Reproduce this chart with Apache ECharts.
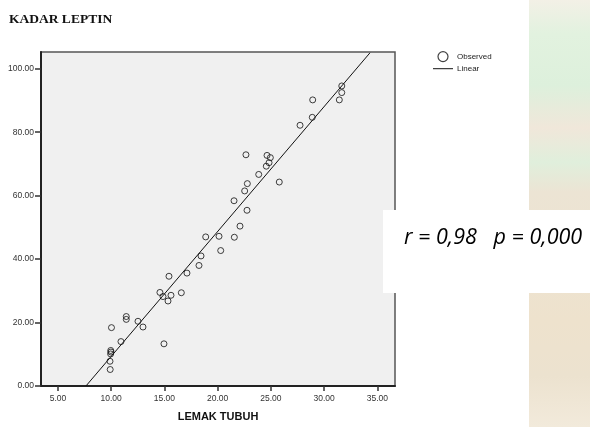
<!DOCTYPE html>
<html>
<head>
<meta charset="utf-8">
<script src="https://cdn.jsdelivr.net/npm/echarts@6/dist/echarts.min.js"></script>
<style>
  html, body { margin: 0; padding: 0; background: #fff; }
  #chart { width: 590px; height: 427px; }
</style>
</head>
<body>
<div id="chart"></div>
<script>
// lemak tubuh (x) vs kadar leptin (y)
const lemakTubuh = [
  9.91, 9.89, 9.95, 9.98, 9.96, 10.03, 10.92, 11.42, 11.42, 12.52,
  12.99, 14.96, 14.58, 14.87, 15.34, 15.62, 15.43, 16.59, 17.12, 18.25,
  18.44, 18.88, 20.13, 20.29, 21.54, 21.57, 22.10, 22.54, 22.66, 22.79,
  22.76, 23.86, 24.57, 24.83, 24.95, 24.64, 25.79, 27.74, 28.89, 28.93,
  31.43, 31.66, 31.66
];
const kadarLeptin = [
  5.2, 7.8, 10.1, 10.7, 11.2, 18.4, 14.0, 21.9, 21.0, 20.4,
  18.6, 13.3, 29.5, 28.2, 26.8, 28.6, 34.6, 29.4, 35.6, 38.0,
  41.0, 47.0, 47.2, 42.7, 58.4, 46.9, 50.4, 61.5, 72.9, 63.8,
  55.4, 66.7, 69.3, 70.4, 72.0, 72.7, 64.3, 82.2, 84.7, 90.2,
  90.2, 92.5, 94.6
];
// fitted line end points (where it leaves the plot frame)
const linearFit = [[7.63, 0], [34.31, 105.04]];

const xTicks = [5, 10, 15, 20, 25, 30, 35];
const yTicks = [0, 20, 40, 60, 80, 100];
const statText = 'r = 0,98   p = 0,000';

const points = lemakTubuh.map((x, i) => [x, kadarLeptin[i]]);

const chart = echarts.init(document.getElementById('chart'), null, { renderer: 'canvas' });

const labelFont = {
  color: '#333',
  fontSize: 8.5,
  fontFamily: 'Liberation Sans, Arial, sans-serif',
  formatter: v => v.toFixed(2)
};

const option = {
  animation: false,
  backgroundColor: '#fff',
  title: {
    text: 'KADAR LEPTIN',
    left: 9,
    top: 13,
    padding: 0,
    textStyle: {
      fontFamily: 'Liberation Serif, Times New Roman, serif',
      fontWeight: 'bold',
      fontSize: 13.5,
      color: '#111'
    }
  },
  legend: {
    orient: 'vertical',
    left: 433,
    top: 51,
    padding: 0,
    itemWidth: 20,
    itemHeight: 10,
    itemGap: 2.5,
    textStyle: { fontSize: 8, color: '#222', fontFamily: 'Liberation Sans, Arial, sans-serif', padding: [0, 0, 0, -1] },
    data: [
      { name: 'Observed', icon: 'circle', itemStyle: { color: 'rgba(255,255,255,0)', borderColor: '#111', borderWidth: 1.2 } },
      { name: 'Linear', icon: 'path://M0,0H20V1H0Z', itemStyle: { color: '#111', borderWidth: 0 } }
    ]
  },
  grid: {
    left: 41,
    right: 195,
    top: 52,
    bottom: 34,
    show: true,
    backgroundColor: '#f0f0f0',
    borderColor: '#555',
    borderWidth: 1.5
  },
  xAxis: {
    type: 'value',
    min: 3.41,
    max: 36.66,
    name: 'LEMAK TUBUH',
    nameLocation: 'middle',
    nameGap: 25,
    nameTextStyle: {
      fontFamily: 'Liberation Sans, Arial, sans-serif',
      fontWeight: 'bold',
      fontSize: 11,
      color: '#111'
    },
    axisLine: { lineStyle: { color: '#222', width: 2 } },
    axisTick: { show: true, length: 5, customValues: xTicks, lineStyle: { color: '#333', width: 1.5 } },
    axisLabel: Object.assign({ margin: 8, customValues: xTicks }, labelFont),
    splitLine: { show: false }
  },
  yAxis: {
    type: 'value',
    min: 0,
    max: 105.3,
    axisLine: { show: true, lineStyle: { color: '#222', width: 2 } },
    axisTick: { show: true, length: 6, customValues: yTicks, lineStyle: { color: '#333', width: 1.5 } },
    axisLabel: Object.assign({ margin: 7, customValues: yTicks }, labelFont),
    splitLine: { show: false }
  },
  series: [
    {
      name: 'Observed',
      type: 'scatter',
      symbol: 'circle',
      symbolSize: 6,
      itemStyle: { color: 'rgba(0,0,0,0)', borderColor: '#111', borderWidth: 1 },
      data: points,
      z: 3
    },
    {
      name: 'Linear',
      type: 'line',
      symbol: 'none',
      itemStyle: { color: '#111' },
      lineStyle: { color: '#111', width: 1 },
      data: linearFit,
      z: 2
    }
  ],
  graphic: [
    // faded photo strip at the right edge
    {
      type: 'rect',
      left: 529, top: 0,
      shape: { width: 61, height: 427 },
      style: {
        fill: new echarts.graphic.LinearGradient(0, 0, 0, 1, [
          { offset: 0, color: '#f3f0e6' },
          { offset: 0.08, color: '#e2f2df' },
          { offset: 0.2, color: '#ddf0dc' },
          { offset: 0.3, color: '#f0e7da' },
          { offset: 0.38, color: '#e0efdc' },
          { offset: 0.45, color: '#ece4d4' },
          { offset: 0.75, color: '#eee2cd' },
          { offset: 0.88, color: '#ece2cf' },
          { offset: 1, color: '#f2eadb' }
        ])
      },
      z: 0
    },
    {
      type: 'group',
      left: 383, top: 210,
      z: 100,
      children: [
        {
          type: 'rect',
          shape: { x: 0, y: 0, width: 207, height: 83 },
          style: { fill: '#fff' }
        },
        {
          type: 'text',
          x: 21, y: 28,
          style: {
            text: statText,
            fontFamily: 'Open Sans, sans-serif',
            fontStyle: 'italic',
            fontSize: 21.5,
            fill: '#000',
            textVerticalAlign: 'middle'
          }
        }
      ]
    }
  ]
};

chart.setOption(option);
</script>
</body>
</html>
